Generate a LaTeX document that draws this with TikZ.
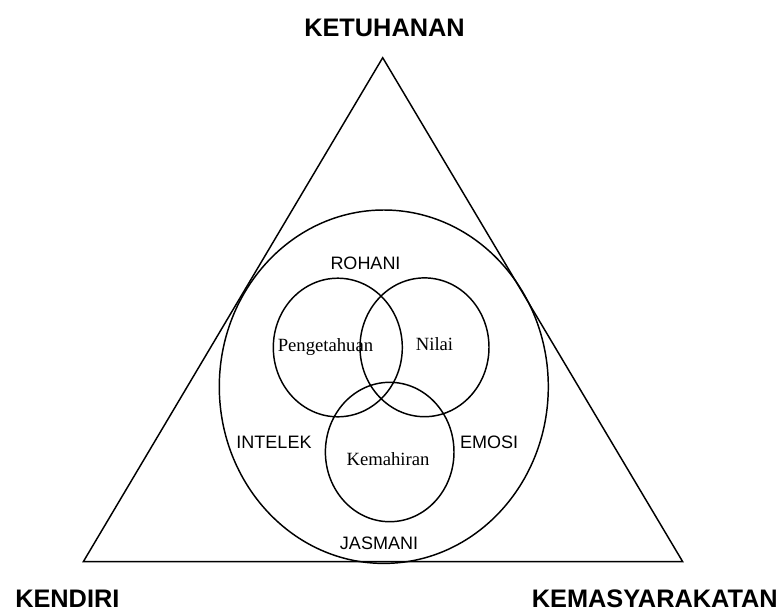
\documentclass[tikz,border=0pt]{standalone}
\usepackage{fontspec}
\setmainfont{Liberation Serif}
\setsansfont{Liberation Sans}
\usetikzlibrary{positioning}

\begin{document}
\begin{tikzpicture}[x=0.75pt,y=-0.75pt,
	pole/.style={font=\sffamily\bfseries\fontsize{19}{20}\selectfont, inner sep=0pt},
	aspect/.style={font=\sffamily\fontsize{13.5}{14}\selectfont, inner sep=0pt},
	field/.style={font=\fontsize{14}{15}\selectfont, inner sep=0pt},
	ring/.style={draw, line width=1.1pt}]
	\useasboundingbox (0,0) rectangle (782,611);

	% triangle
	\coordinate (top) at (382.7,57.7);
	\coordinate (left) at (83.3,561.7);
	\coordinate (right) at (682.7,561.7);
	\draw[ring, line join=miter] (top) -- (left) -- (right) -- cycle;

	% circles
	\draw[ring] (383.8,386.7) ellipse [x radius=164.5, y radius=176.7];
	\draw[ring] (337.8,347.5) ellipse [x radius=64.5, y radius=69.3];
	\draw[ring] (424.5,347.3) ellipse [x radius=64.5, y radius=69.4];
	\draw[ring] (389.7,452) ellipse [x radius=64.3, y radius=69.7];

	% poles
	\node[pole, anchor=base] (ketuhanan) at (384.5,36.7) {KETUHANAN};
	\node[pole, anchor=base west] (kendiri) at (15,607) {KENDIRI};
	\node[pole, anchor=base east] (kemasyarakatan) at (778,607) {KEMASYARAKATAN};

	% aspects
	\node[aspect, anchor=base] (rohani) at (365.5,269) {ROHANI};
	\node[aspect, anchor=base] (intelek) at (274,448.3) {INTELEK};
	\node[aspect, anchor=base] (emosi) at (489,448.3) {EMOSI};
	\node[aspect, anchor=base] (jasmani) at (379,549.3) {JASMANI};

	% fields
	\node[field, anchor=base] (pengetahuan) at (325.5,351.7) {Pengetahuan};
	\node[field, anchor=base] (nilai) at (434.5,350.5) {Nilai};
	\node[field, anchor=base] (kemahiran) at (388,465) {Kemahiran};
\end{tikzpicture}
\end{document}
